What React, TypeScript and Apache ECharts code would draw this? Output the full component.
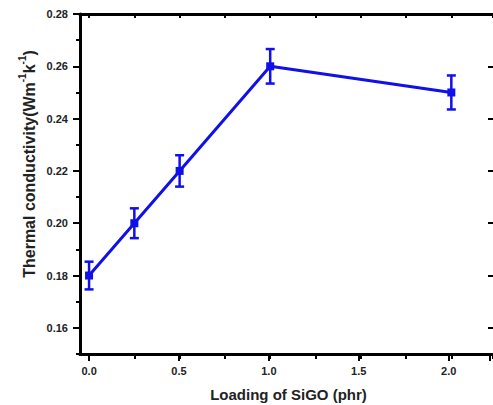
import React, { useEffect, useRef } from "react";
import * as echarts from "echarts";

// ---- data ----
const loading = [0, 0.25, 0.5, 1.0, 2.0];
const conductivity = [0.18, 0.2, 0.22, 0.26, 0.25];
const errors = [0.0053, 0.0057, 0.006, 0.0066, 0.0065];

const xTitle = "Loading of SiGO (phr)";
const yTitleParts = ["Thermal conductivity(Wm", "-1", "k", "-1", ")"];

// axis ranges
const X_MIN = -0.05;
const X_MAX = 2.23;
const Y_MIN = 0.15;
const Y_MAX = 0.28;
const Y_FIRST_LABEL = 0.16;

const BLUE = "#1010e8";
const FONT = '"Liberation Sans", Arial, sans-serif';

const GRID_LEFT = 80;
const GRID_TOP = 14;
const GRID_W = 415;
const GRID_H = 340;

export default function App() {
  const ref = useRef<HTMLDivElement>(null);

  useEffect(() => {
    if (!ref.current) return;
    const chart = echarts.init(ref.current, null, { renderer: "svg" });

    const gridLeftShift = GRID_LEFT + ((0 - X_MIN) / (X_MAX - X_MIN)) * GRID_W;
    const gridD_H = (GRID_H * (Y_MAX - Y_FIRST_LABEL)) / (Y_MAX - Y_MIN);

    const lineStyle = { color: "#000", width: 3 };
    const tickStyle = { color: "#000", width: 2 };
    const labelStyle = {
      fontSize: 11,
      fontWeight: "bold" as const,
      color: "#222",
      fontFamily: FONT,
    };
    const off = { show: false };

    const errData = loading.map((x, i) => [
      x,
      conductivity[i] - errors[i],
      conductivity[i] + errors[i],
    ]);

    const option: any = {
      animation: false,
      backgroundColor: "#fff",
      grid: [
        { left: GRID_LEFT, top: GRID_TOP, width: GRID_W, height: GRID_H },
        { left: gridLeftShift, top: GRID_TOP, width: GRID_LEFT + GRID_W - gridLeftShift, height: GRID_H },
        { left: gridLeftShift, top: GRID_TOP, width: GRID_LEFT + GRID_W - gridLeftShift, height: GRID_H },
        { left: GRID_LEFT, top: GRID_TOP, width: GRID_W, height: gridD_H },
      ],
      xAxis: [
        // frame grid
        {
          type: "value", gridIndex: 0, position: "bottom", min: X_MIN, max: X_MAX,
          axisLine: { show: true, onZero: false, lineStyle },
          axisTick: off, axisLabel: off, splitLine: off,
        },
        {
          type: "value", gridIndex: 0, position: "top", min: X_MIN, max: X_MAX,
          axisLine: { show: true, onZero: false, lineStyle },
          axisTick: off, axisLabel: off, splitLine: off,
        },
        // minor ticks every 0.25
        {
          type: "value", gridIndex: 1, position: "bottom", min: 0, max: X_MAX, interval: 0.25,
          axisLine: off, axisTick: { show: true, length: 5, lineStyle: tickStyle },
          axisLabel: off, splitLine: off,
        },
        {
          type: "value", gridIndex: 1, position: "top", min: 0, max: X_MAX, interval: 0.25,
          axisLine: off, axisTick: { show: true, inside: true, length: 4, lineStyle: tickStyle },
          axisLabel: off, splitLine: off,
        },
        // major ticks + labels every 0.5
        {
          type: "value", gridIndex: 2, position: "bottom", min: 0, max: X_MAX, interval: 0.5,
          axisLine: off, axisTick: { show: true, length: 7, lineStyle: tickStyle },
          axisLabel: {
            ...labelStyle, margin: 11,
            formatter: (v: number) =>
              Math.abs(v * 2 - Math.round(v * 2)) < 1e-6 ? v.toFixed(1) : "",
          },
          splitLine: off,
        },
        { type: "value", gridIndex: 3, show: false, min: 0, max: 1 },
      ],
      yAxis: [
        {
          type: "value", gridIndex: 0, position: "left", min: Y_MIN, max: Y_MAX, interval: 0.01,
          axisLine: { show: true, onZero: false, lineStyle },
          axisTick: { show: true, length: 4, lineStyle: tickStyle },
          axisLabel: off, splitLine: off,
        },
        { type: "value", gridIndex: 1, show: false, min: 0, max: 1 },
        { type: "value", gridIndex: 2, show: false, min: 0, max: 1 },
        {
          type: "value", gridIndex: 3, position: "left", min: Y_FIRST_LABEL, max: Y_MAX, interval: 0.02,
          axisLine: off, axisTick: { show: true, length: 7, lineStyle: tickStyle },
          axisLabel: { ...labelStyle, margin: 12, formatter: (v: number) => v.toFixed(2) },
          splitLine: off,
        },
        {
          type: "value", gridIndex: 3, position: "right", min: Y_FIRST_LABEL, max: Y_MAX, interval: 0.02,
          axisLine: off, axisTick: { show: true, inside: true, length: 5, lineStyle: tickStyle },
          axisLabel: off, splitLine: off,
        },
      ],
      series: [
        {
          type: "custom",
          xAxisIndex: 0,
          yAxisIndex: 0,
          encode: { x: 0, y: [1, 2] },
          data: errData,
          z: 3,
          renderItem: (_params: any, api: any) => {
            const x = api.value(0);
            const pLo = api.coord([x, api.value(1)]);
            const pHi = api.coord([x, api.value(2)]);
            const w = 4.5;
            const style = { stroke: BLUE, lineWidth: 2.5 };
            return {
              type: "group",
              children: [
                { type: "line", shape: { x1: pLo[0], y1: pLo[1], x2: pHi[0], y2: pHi[1] }, style },
                { type: "line", shape: { x1: pLo[0] - w, y1: pLo[1], x2: pLo[0] + w, y2: pLo[1] }, style },
                { type: "line", shape: { x1: pHi[0] - w, y1: pHi[1], x2: pHi[0] + w, y2: pHi[1] }, style },
              ],
            };
          },
        },
        {
          type: "line",
          xAxisIndex: 0,
          yAxisIndex: 0,
          data: loading.map((x, i) => [x, conductivity[i]]),
          symbol: "rect",
          symbolSize: 8,
          lineStyle: { color: BLUE, width: 3 },
          itemStyle: { color: BLUE },
          z: 4,
        },
      ],
      graphic: [
        {
          type: "text",
          x: GRID_LEFT + GRID_W / 2 + 1,
          y: 394,
          style: {
            text: xTitle,
            font: `bold 15px ${FONT}`,
            fill: "#222",
            align: "center",
            verticalAlign: "middle",
          },
        },
        {
          type: "text",
          x: 27,
          y: 164,
          rotation: Math.PI / 2,
          style: {
            text: `{m|${yTitleParts[0]}}{s|${yTitleParts[1]}}{m|${yTitleParts[2]}}{s|${yTitleParts[3]}}{m|${yTitleParts[4]}}`,
            align: "center",
            verticalAlign: "middle",
            fill: "#222",
            rich: {
              m: { fontSize: 16, fontWeight: "bold", fontFamily: FONT, verticalAlign: "bottom", lineHeight: 20, fill: "#222" },
              s: { fontSize: 10, fontWeight: "bold", fontFamily: FONT, verticalAlign: "top", lineHeight: 20, fill: "#222" },
            },
          },
        },
      ],
    };

    chart.setOption(option);
    return () => chart.dispose();
  }, []);

  return (
    <div
      ref={ref}
      style={{ position: "absolute", left: 0, top: 0, width: 493, height: 405 }}
    />
  );
}
